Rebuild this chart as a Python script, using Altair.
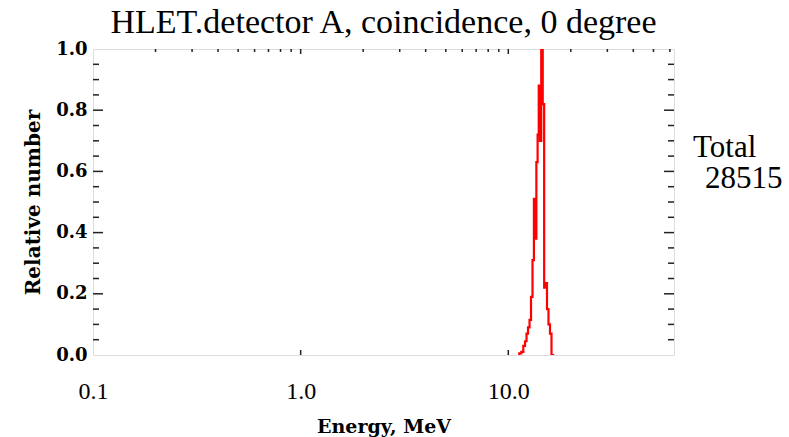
import altair as alt
import pandas as pd

# Spectrum (energy in MeV, relative number)
energy = [11.17, 11.42, 11.68, 11.94, 12.14, 12.34, 12.55, 12.76, 12.97, 13.19,
          13.38, 13.56, 13.74, 13.94, 14.09, 14.30, 14.52, 14.78, 14.98, 15.23,
          15.49, 15.74, 16.01, 16.28, 16.64]
rel_number = [0.0, 0.005, 0.01, 0.03, 0.045, 0.07, 0.09, 0.115, 0.19, 0.31,
              0.51, 0.38, 0.63, 0.72, 0.88, 0.70, 1.0, 0.82, 0.22, 0.235,
              0.15, 0.10, 0.07, 0.0, 0.0]

x_major = [0.1, 1.0, 10.0]
x_major_labels = ["0.1", "1.0", "10.0"]
x_minor = [0.2, 0.3, 0.4, 0.5, 0.6, 0.7, 0.8, 0.9,
           2, 3, 4, 5, 6, 7, 8, 9, 20, 30, 40, 50, 60]
y_major = [0.0, 0.2, 0.4, 0.6, 0.8, 1.0]
y_minor = [0.05, 0.1, 0.15, 0.25, 0.3, 0.35, 0.45, 0.5, 0.55,
           0.65, 0.7, 0.75, 0.85, 0.9, 0.95]
x_domain = [0.1, 62.8]
y_domain = [0.0, 1.0]

title_text = "HLET.detector A, coincidence, 0 degree"
total_label = "Total"
total_value = "28515"

W, H = 581, 306
SERIF_B = "DejaVu Serif"
SERIF_N = "Liberation Serif"

df = pd.DataFrame({"E": energy, "N": rel_number})
xs = alt.Scale(type="log", domain=x_domain, nice=False)
ys = alt.Scale(domain=y_domain, nice=False, zero=False)

label_expr = ("datum.value < 0.5 ? '" + x_major_labels[0] + "' : (datum.value < 5 ? '"
              + x_major_labels[1] + "' : '" + x_major_labels[2] + "')")

line = alt.Chart(df).mark_line(color="#ff0000", strokeWidth=2.2,
                               interpolate="step", clip=True).encode(
    x=alt.X("E:Q", scale=xs,
            axis=alt.Axis(values=x_major, labelExpr=label_expr, ticks=False,
                          domain=False, grid=False, labelFlush=False,
                          labelFont=SERIF_N, labelFontSize=24, labelColor="#000",
                          labelPadding=24, title="Energy, MeV",
                          titleFont=SERIF_B, titleFontSize=19, titleFontWeight="bold",
                          titleColor="#000", titlePadding=14)),
    y=alt.Y("N:Q", scale=ys,
            axis=alt.Axis(values=y_major, format=".1f", ticks=False, domain=False,
                          grid=False, labelFont=SERIF_B, labelFontSize=18,
                          labelFontWeight="bold", labelColor="#000", labelPadding=6,
                          title="Relative number", titleFont=SERIF_B,
                          titleFontSize=20, titleFontWeight="bold",
                          titleColor="#000", titlePadding=12)),
)

tick_color = "#222"
xmaj_df = pd.DataFrame({"v": x_major[1:]})
xmin_df = pd.DataFrame({"v": x_minor})
ymaj_df = pd.DataFrame({"v": y_major[1:-1]})
ymin_df = pd.DataFrame({"v": y_minor})

top_major = alt.Chart(xmaj_df).mark_rule(color=tick_color, strokeWidth=1.5).encode(
    x=alt.X("v:Q", scale=xs), y=alt.value(0), y2=alt.value(5))
top_minor = alt.Chart(xmin_df).mark_rule(color=tick_color, strokeWidth=1.5).encode(
    x=alt.X("v:Q", scale=xs), y=alt.value(0), y2=alt.value(3))
bot_major = alt.Chart(xmaj_df).mark_rule(color=tick_color, strokeWidth=1.5).encode(
    x=alt.X("v:Q", scale=xs), y=alt.value(H), y2=alt.value(H - 5))
left_major = alt.Chart(ymaj_df).mark_rule(color=tick_color, strokeWidth=1.5).encode(
    y=alt.Y("v:Q", scale=ys), x=alt.value(0), x2=alt.value(10))
left_minor = alt.Chart(ymin_df).mark_rule(color=tick_color, strokeWidth=1.5).encode(
    y=alt.Y("v:Q", scale=ys), x=alt.value(0), x2=alt.value(6))
right_major = alt.Chart(ymaj_df).mark_rule(color=tick_color, strokeWidth=1.5).encode(
    y=alt.Y("v:Q", scale=ys), x=alt.value(W), x2=alt.value(W - 10))
right_minor = alt.Chart(ymin_df).mark_rule(color=tick_color, strokeWidth=1.5).encode(
    y=alt.Y("v:Q", scale=ys), x=alt.value(W), x2=alt.value(W - 6))

txt1 = alt.Chart(pd.DataFrame({"t": [total_label]})).mark_text(
    font=SERIF_N, fontSize=31, align="left", baseline="alphabetic", color="#000"
).encode(text="t:N", x=alt.value(600), y=alt.value(108))
txt2 = alt.Chart(pd.DataFrame({"t": [total_value]})).mark_text(
    font=SERIF_N, fontSize=31, align="left", baseline="alphabetic", color="#000"
).encode(text="t:N", x=alt.value(612), y=alt.value(139))

chart = alt.layer(
    line, top_major, top_minor, bot_major, left_major, left_minor,
    right_major, right_minor, txt1, txt2
).properties(
    width=W, height=H,
    title=alt.TitleParams(title_text, font=SERIF_N, fontSize=34, fontWeight="normal",
                          color="#000", anchor="middle", offset=9, dy=9),
    autosize=alt.AutoSizeParams(type="none"),
    padding={"left": 93, "top": 49, "right": 115, "bottom": 82},
).configure_view(
    stroke="#222", strokeWidth=2
).configure(background="white")

chart.save("out.html", embed_options={"renderer": "svg", "actions": False})
